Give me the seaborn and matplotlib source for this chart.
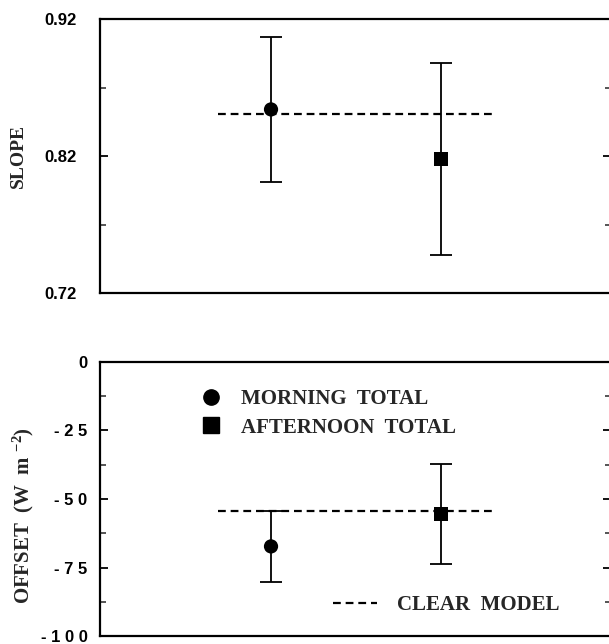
import numpy as np
import pandas as pd
import matplotlib
matplotlib.use("Agg")
import matplotlib.pyplot as plt
from matplotlib.lines import Line2D
from matplotlib.ticker import FixedLocator
import seaborn as sns

# ---- data ----
periods = ["MORNING TOTAL", "AFTERNOON TOTAL"]
slope_mean = [0.854, 0.818]
slope_err = [0.053, 0.070]
slope_clear = 0.851

offset_mean = [-67.3, -55.5]
offset_err = [13.0, 18.2]
offset_clear = -54.4

slope_ticks = [0.72, 0.82, 0.92]
slope_tick_labels = ["0.72", "0.82", "0.92"]
offset_ticks = [0, -25, -50, -75, -100]
offset_tick_labels = ["0", "- 2 5", "- 5 0", "- 7 5", "- 1 0 0"]

sns.set_style("ticks")
plt.rcParams["font.family"] = ["DejaVu Sans"]
plt.rcParams["mathtext.fontset"] = "custom"
plt.rcParams["mathtext.rm"] = "Liberation Serif:bold"
plt.rcParams["mathtext.default"] = "regular"

W, H = 609, 644
fig = plt.figure(figsize=(W / 100, H / 100), dpi=100)
fig.patch.set_facecolor("white")

left = 100 / W
right = 611 / W
ax_top = fig.add_axes([left, 1 - 293 / H, right - left, 274 / H])
ax_bot = fig.add_axes([left, 1 - 636 / H, right - left, 274 / H])

markers = {"MORNING TOTAL": "o", "AFTERNOON TOTAL": "s"}
serif_bold = dict(family="Liberation Serif", weight="bold")
tick_font = dict(family="Liberation Sans", weight="bold", size=12)

def draw_panel(ax, means, errs, clear, ylim, major, major_labels, minor, pad):
    df = pd.DataFrame({"period": periods, "value": means})
    ax.errorbar(x=np.arange(len(periods)), y=means, yerr=errs, fmt="none",
                ecolor="black", elinewidth=1.3, capsize=8, capthick=1.3, zorder=2)
    sns.scatterplot(data=df, x=np.arange(len(periods)), y="value", style="period",
                    markers=markers, color="black", s=105, edgecolor="black",
                    linewidth=0, legend=False, ax=ax, zorder=3)
    ax.plot([-0.31, 1.3], [clear, clear], color="black", lw=1.6,
            dashes=(3.5, 2.2), zorder=1)
    ax.set_xlim(-1.006, 2.0)
    ax.set_ylim(*ylim)
    ax.set_xticks([])
    ax.yaxis.set_major_locator(FixedLocator(major))
    ax.set_yticklabels(major_labels, fontdict=tick_font)
    ax.yaxis.set_minor_locator(FixedLocator(minor))
    ax.tick_params(axis="y", which="major", direction="in", length=6, width=1.3,
                   left=True, right=True, pad=pad, colors="black")
    ax.tick_params(axis="y", which="minor", direction="in", length=4, width=1.1,
                   left=True, right=True)
    for s in ax.spines.values():
        s.set_linewidth(1.6)
        s.set_color("black")
    ax.set_xlabel("")

draw_panel(ax_top, slope_mean, slope_err, slope_clear, (0.72, 0.92),
           slope_ticks, slope_tick_labels, [0.77, 0.87], pad=17)
draw_panel(ax_bot, offset_mean, offset_err, offset_clear, (-100, 0),
           offset_ticks, offset_tick_labels, [-12.5, -37.5, -62.5, -87.5], pad=9)

ax_top.set_ylabel("SLOPE", fontsize=14, va="center", **serif_bold)
ax_top.yaxis.set_label_coords(-0.16, 0.5)
ax_bot.set_ylabel("OFFSET  (W  m $^{-2}$)", fontsize=15, va="center", **serif_bold)
ax_bot.yaxis.set_label_coords(-0.15, 0.44)

# legend for the two series
legend_font = dict(size=15, **serif_bold)
series_handles = [Line2D([], [], marker=markers[p], color="black", linestyle="none",
                         markersize=11) for p in periods]
series_labels = [p.replace(" ", "  ") for p in periods]
leg1 = ax_bot.legend(series_handles, series_labels, loc="upper left",
                     bbox_to_anchor=(0.197, 0.901), frameon=False, borderpad=0,
                     borderaxespad=0, handlelength=1.0, handletextpad=0.95,
                     labelspacing=0.41, prop=legend_font)
ax_bot.add_artist(leg1)

clear_handle = [Line2D([], [], color="black", lw=1.6, dashes=(3.5, 2.2))]
ax_bot.legend(clear_handle, ["CLEAR  MODEL"], loc="center left",
              bbox_to_anchor=(0.456, 0.113), frameon=False, borderpad=0,
              borderaxespad=0, handlelength=2.1, handletextpad=0.95,
              prop=legend_font)

fig.savefig("out.png", dpi=100, facecolor="white")
